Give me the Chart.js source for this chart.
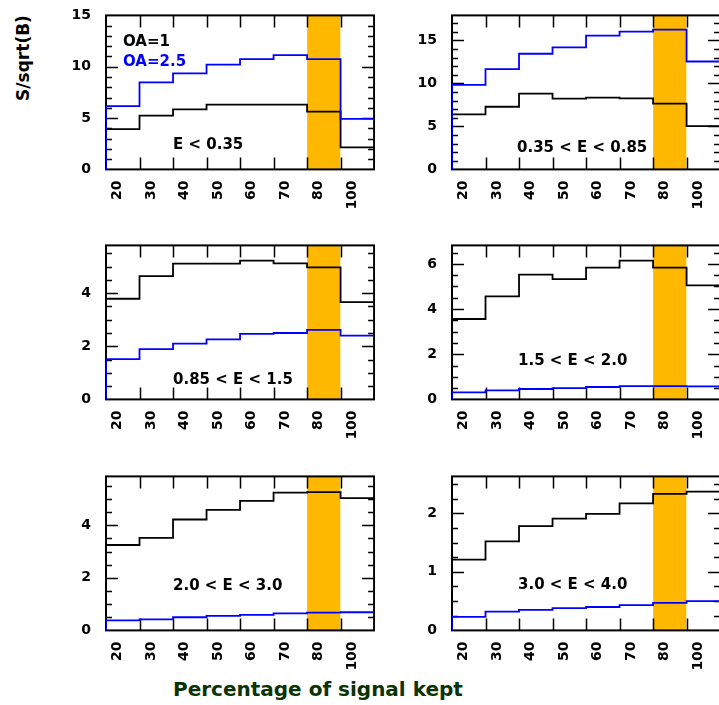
<!DOCTYPE html>
<html>
<head>
<meta charset="utf-8">
<script src="https://cdn.jsdelivr.net/npm/chart.js@4.4.1/dist/chart.umd.min.js"></script>
<style>
  body { margin: 0; background: #fff; }
  #page { position: relative; width: 719px; height: 705px; overflow: hidden; background: #fff; }
  #page canvas { position: absolute; }
  .ytitle {
    position: absolute; left: 23px; top: 58px; white-space: nowrap;
    transform: translate(-50%, -50%) rotate(-90deg);
    font: bold 17px "DejaVu Sans"; color: #000;
  }
  .xtitle {
    position: absolute; left: 173px; top: 677px; white-space: nowrap; line-height: 1;
    font: bold 20px "DejaVu Sans"; color: #0a3300;
  }
</style>
</head>
<body>
<div id="page">
  <div class="ytitle">S/sqrt(B)</div>
  <div class="xtitle">Percentage of signal kept</div>
</div>
<script>
// bins (percentage of signal kept), label sits under each bin
const binLabels = ['20', '30', '40', '50', '60', '70', '80', '100'];
const bandBin = 6; // the highlighted 80% bin

// S/sqrt(B) per bin, OA=1 (black) and OA=2.5 (blue)
const oa1_E035 = [3.93, 5.23, 5.84, 6.30, 6.30, 6.30, 5.62, 2.14];
const oa25_E035 = [6.17, 8.47, 9.35, 10.20, 10.75, 11.14, 10.75, 4.93];
const oa1_E085 = [6.39, 7.28, 8.80, 8.22, 8.34, 8.26, 7.64, 5.03];
const oa25_E085 = [9.82, 11.65, 13.44, 14.18, 15.54, 16.01, 16.24, 12.54];
const oa1_E15 = [3.79, 4.64, 5.11, 5.11, 5.23, 5.12, 4.97, 3.66];
const oa25_E15 = [1.52, 1.89, 2.10, 2.26, 2.47, 2.50, 2.62, 2.40];
const oa1_E20 = [3.56, 4.56, 5.53, 5.33, 5.84, 6.15, 5.84, 5.05];
const oa25_E20 = [0.31, 0.40, 0.46, 0.50, 0.55, 0.59, 0.59, 0.58];
const oa1_E30 = [3.25, 3.52, 4.22, 4.59, 4.93, 5.24, 5.26, 5.03];
const oa25_E30 = [0.38, 0.42, 0.50, 0.55, 0.59, 0.65, 0.68, 0.69];
const oa1_E40 = [1.21, 1.52, 1.78, 1.91, 1.99, 2.17, 2.33, 2.37];
const oa25_E40 = [0.23, 0.32, 0.35, 0.38, 0.40, 0.43, 0.47, 0.50];

const panels = [
  { left: 106, top: 15, black: oa1_E035, blue: oa25_E035, ymax: 15, major: 5, minor: 1,
    notes: [['OA=1', '#000', 17, 30.7], ['OA=2.5', '#0000ff', 17, 50.3], ['E < 0.35', '#000', 67, 133.3]] },
  { left: 452, top: 15, black: oa1_E085, blue: oa25_E085, ymax: 17.9, major: 5, minor: 1,
    notes: [['0.35 < E < 0.85', '#000', 65, 136.7]] },
  { left: 106, top: 245, black: oa1_E15, blue: oa25_E15, ymax: 5.8, major: 2, minor: 0.5,
    notes: [['0.85 < E < 1.5', '#000', 67, 138.3]] },
  { left: 452, top: 245, black: oa1_E20, blue: oa25_E20, ymax: 6.82, major: 2, minor: 0.5,
    notes: [['1.5 < E < 2.0', '#000', 66, 120]] },
  { left: 106, top: 476, black: oa1_E30, blue: oa25_E30, ymax: 5.86, major: 2, minor: 0.5,
    notes: [['2.0 < E < 3.0', '#000', 67, 114]] },
  { left: 452, top: 476, black: oa1_E40, blue: oa25_E40, ymax: 2.63, major: 1, minor: 0.25,
    notes: [['3.0 < E < 4.0', '#000', 66, 112.3]] },
];

const YW = 60, XH = 45;
const plotW = 269, plotH = 154;

// histogram outline: start at 0 on the left edge, then one step per bin
function steps(vals) {
  const pts = [{ x: 0, y: 0 }];
  vals.forEach((v, i) => pts.push({ x: i, y: v }));
  pts.push({ x: vals.length, y: vals[vals.length - 1] });
  return pts;
}

const framePlugin = {
  id: 'frame',
  afterDatasetDraw(chart, args, opts) {
    if (args.index !== 2) return; // after the orange band
    const { ctx, chartArea: a } = chart;
    const x = chart.scales.x, y = chart.scales.y;
    ctx.save();
    ctx.strokeStyle = '#000';
    ctx.lineWidth = 1.5;
    ctx.beginPath();
    for (let i = 1; i < binLabels.length; i++) {
      const px = Math.round(x.getPixelForValue(i)) + 0.5;
      ctx.moveTo(px, a.bottom); ctx.lineTo(px, a.bottom - 12);
      ctx.moveTo(px, a.top); ctx.lineTo(px, a.top + 12);
    }
    for (let v = opts.minor; v < opts.ymax; v += opts.minor) {
      const major = Math.abs(v / opts.major - Math.round(v / opts.major)) < 1e-6;
      const len = major ? 12 : 6;
      const py = Math.round(y.getPixelForValue(v)) + 0.5;
      ctx.moveTo(a.left, py); ctx.lineTo(a.left + len, py);
      ctx.moveTo(a.right, py); ctx.lineTo(a.right - len, py);
    }
    ctx.stroke();
    ctx.lineWidth = 2;
    ctx.strokeRect(a.left, a.top, a.right - a.left, a.bottom - a.top);
    ctx.restore();
  },
  afterDraw(chart, args, opts) {
    const { ctx, chartArea: a } = chart;
    ctx.save();
    ctx.font = 'bold 15px "DejaVu Sans"';
    ctx.textBaseline = 'alphabetic';
    ctx.textAlign = 'left';
    opts.notes.forEach(([t, c, dx, dy]) => {
      ctx.fillStyle = c;
      ctx.fillText(t, a.left + dx, a.top + dy);
    });
    ctx.restore();
  }
};

const page = document.getElementById('page');
panels.forEach(p => {
  const cv = document.createElement('canvas');
  cv.width = YW + plotW + 10;
  cv.height = plotH + XH + 20;
  page.appendChild(cv);

  const chart = new Chart(cv, {
    type: 'line',
    data: {
      datasets: [
        { data: steps(p.black), stepped: 'before', borderColor: '#000', borderWidth: 1.8,
          pointRadius: 0, fill: false, order: 1 },
        { data: steps(p.blue), stepped: 'before', borderColor: '#0000ff', borderWidth: 1.8,
          pointRadius: 0, fill: false, order: 0 },
        { data: [{ x: bandBin, y: p.ymax }, { x: bandBin + 1, y: p.ymax }],
          borderWidth: 0, pointRadius: 0, fill: 'origin',
          backgroundColor: '#ffb800', order: 2 },
      ]
    },
    options: {
      responsive: false,
      maintainAspectRatio: false,
      devicePixelRatio: 1,
      animation: false,
      events: [],
      layout: { padding: 0 },
      plugins: {
        legend: { display: false },
        tooltip: { enabled: false },
        frame: { ymax: p.ymax, major: p.major, minor: p.minor, notes: p.notes },
      },
      scales: {
        x: {
          type: 'linear', min: 0, max: binLabels.length,
          grid: { display: false }, border: { display: false },
          afterBuildTicks: s => { s.ticks = binLabels.map((_, i) => ({ value: i + 0.35 })); },
          afterFit: s => { s.height = XH; },
          ticks: {
            minRotation: 90, maxRotation: 90, padding: 3, color: '#000',
            font: { family: 'DejaVu Sans', weight: 'bold', size: 14 },
            callback: (v, i) => binLabels[i],
          },
        },
        y: {
          min: 0, max: p.ymax,
          grid: { display: false }, border: { display: false },
          afterFit: s => { s.width = YW; },
          ticks: {
            stepSize: p.major, includeBounds: false, padding: 7, color: '#000',
            font: { family: 'DejaVu Sans', weight: 'bold', size: 14 },
          },
        },
      },
    },
    plugins: [framePlugin],
  });

  // grow the canvas so the plot area is exactly plotW x plotH, then line it up with the frame
  const a = chart.chartArea;
  chart.resize(cv.width + plotW - (a.right - a.left), cv.height + plotH - (a.bottom - a.top));
  const b = chart.chartArea;
  cv.style.left = (p.left - b.left) + 'px';
  cv.style.top = (p.top - b.top) + 'px';
});
</script>
</body>
</html>
